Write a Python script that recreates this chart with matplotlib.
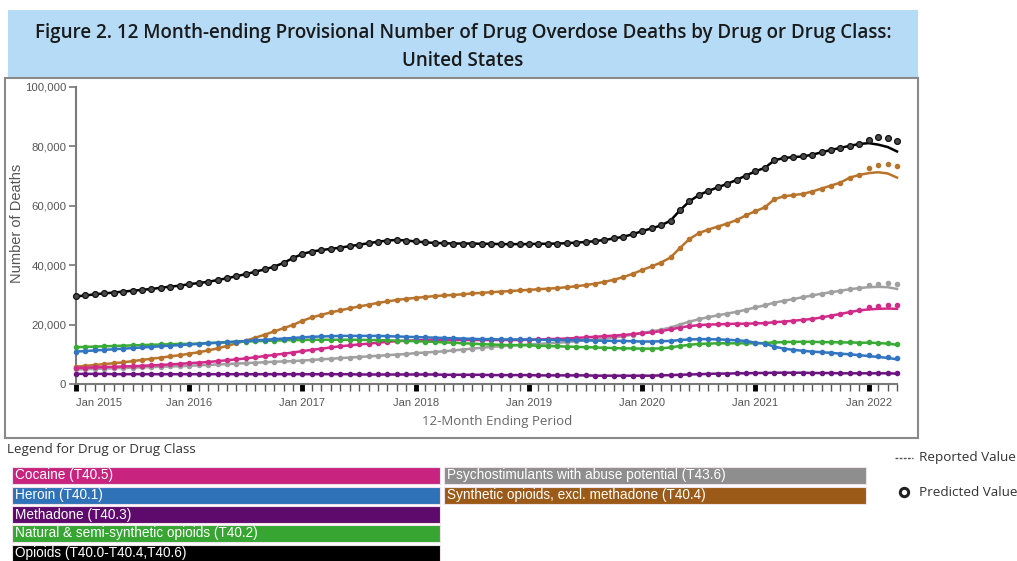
import matplotlib
matplotlib.use("Agg")
import matplotlib.pyplot as plt
from matplotlib.patches import Rectangle
from matplotlib.ticker import FuncFormatter, FixedLocator

# 12-month ending periods, Jan 2015 .. Apr 2022 (monthly)
n_months = 88
year_labels = ["Jan 2015", "Jan 2016", "Jan 2017", "Jan 2018",
               "Jan 2019", "Jan 2020", "Jan 2021", "Jan 2022"]

# reported values, thousands of deaths
opioids = [29.5, 29.8, 30.2, 30.5, 30.8, 31.1, 31.4, 31.7, 32.0, 32.4, 32.8, 33.1,
           33.6, 34.0, 34.4, 35.0, 35.6, 36.3, 37.0, 37.8, 38.6, 39.5, 40.8, 42.4,
           43.8, 44.6, 45.1, 45.5, 45.9, 46.4, 46.9, 47.4, 47.9, 48.3, 48.5, 48.3,
           48.0, 47.7, 47.5, 47.4, 47.3, 47.3, 47.3, 47.2, 47.2, 47.1, 47.1, 47.1,
           47.1, 47.2, 47.2, 47.3, 47.4, 47.6, 47.8, 48.1, 48.5, 49.0, 49.6, 50.4,
           51.5, 52.4, 53.4, 55.0, 58.5, 61.5, 63.6, 65.0, 66.2, 67.4, 68.7, 70.2,
           71.6, 72.8, 75.3, 76.1, 76.4, 76.6, 77.2, 78.0, 78.8, 79.5, 80.2, 80.8,
           81.1, 80.6, 79.8, 78.3]
synthetic = [5.8, 6.1, 6.4, 6.7, 7.0, 7.3, 7.7, 8.1, 8.5, 8.9, 9.3, 9.7,
             10.2, 10.7, 11.3, 12.0, 12.8, 13.7, 14.6, 15.6, 16.6, 17.7, 18.8, 19.9,
             21.3, 22.4, 23.3, 24.1, 24.8, 25.5, 26.1, 26.7, 27.3, 27.8, 28.3, 28.7,
             29.0, 29.3, 29.6, 29.8, 30.0, 30.2, 30.5, 30.7, 30.9, 31.1, 31.3, 31.5,
             31.7, 31.9, 32.1, 32.3, 32.6, 32.9, 33.3, 33.8, 34.4, 35.1, 36.0, 37.1,
             38.4, 39.6, 40.9, 42.6, 45.8, 48.8, 50.8, 52.0, 53.0, 54.0, 55.2, 56.8,
             58.2, 59.5, 62.2, 63.2, 63.6, 64.0, 64.8, 65.8, 66.8, 67.8, 69.5, 70.4,
             71.0, 71.3, 70.9, 69.5]
psychostim = [4.9, 5.0, 5.1, 5.2, 5.3, 5.4, 5.5, 5.6, 5.7, 5.8, 5.9, 6.0,
              6.1, 6.3, 6.4, 6.6, 6.7, 6.9, 7.0, 7.2, 7.3, 7.5, 7.6, 7.7,
              7.9, 8.1, 8.3, 8.5, 8.7, 8.9, 9.1, 9.3, 9.5, 9.7, 9.9, 10.1,
              10.4, 10.6, 10.8, 11.0, 11.3, 11.6, 11.9, 12.2, 12.5, 12.7, 12.9, 13.1,
              13.3, 13.5, 13.7, 13.9, 14.1, 14.4, 14.7, 15.0, 15.3, 15.7, 16.1, 16.6,
              17.2, 17.7, 18.3, 19.0, 20.0, 21.0, 21.8, 22.5, 23.1, 23.7, 24.3, 25.0,
              25.8, 26.5, 27.4, 28.0, 28.6, 29.2, 29.8, 30.4, 30.9, 31.4, 31.9, 32.3,
              32.6, 32.7, 32.6, 32.0]
cocaine = [5.4, 5.5, 5.6, 5.7, 5.8, 5.9, 6.0, 6.1, 6.3, 6.4, 6.6, 6.8,
           7.0, 7.2, 7.4, 7.7, 8.0, 8.3, 8.6, 9.0, 9.4, 9.8, 10.2, 10.6,
           11.1, 11.5, 11.9, 12.3, 12.7, 13.0, 13.3, 13.6, 13.9, 14.2, 14.4, 14.6,
           14.7, 14.8, 14.8, 14.8, 14.8, 14.8, 14.8, 14.8, 14.8, 14.8, 14.8, 14.8,
           14.9, 15.0, 15.1, 15.2, 15.3, 15.5, 15.7, 15.9, 16.1, 16.3, 16.5, 16.8,
           17.1, 17.4, 17.8, 18.4, 19.0, 19.5, 19.8, 20.0, 20.1, 20.2, 20.3, 20.3,
           20.4, 20.5, 20.8, 21.0, 21.3, 21.6, 21.9, 22.4, 23.0, 23.6, 24.2, 24.8,
           25.1, 25.3, 25.4, 25.3]
heroin = [10.9, 11.1, 11.3, 11.5, 11.7, 11.9, 12.1, 12.3, 12.5, 12.7, 12.9, 13.1,
          13.3, 13.5, 13.7, 13.9, 14.1, 14.3, 14.5, 14.7, 14.9, 15.1, 15.3, 15.5,
          15.7, 15.9, 16.0, 16.1, 16.2, 16.2, 16.2, 16.2, 16.2, 16.1, 16.0, 15.9,
          15.8, 15.7, 15.6, 15.5, 15.4, 15.3, 15.2, 15.1, 15.1, 15.0, 15.0, 15.0,
          15.0, 14.9, 14.9, 14.8, 14.8, 14.7, 14.7, 14.6, 14.6, 14.5, 14.5, 14.4,
          14.3, 14.3, 14.4, 14.5, 14.8, 15.0, 15.1, 15.1, 15.0, 14.9, 14.7, 14.5,
          13.9, 13.6, 12.6, 11.9, 11.5, 11.2, 10.9, 10.7, 10.5, 10.2, 10.0, 9.7,
          9.4, 9.1, 8.8, 8.3]
natural = [12.4, 12.5, 12.6, 12.7, 12.8, 12.9, 13.0, 13.1, 13.2, 13.3, 13.4, 13.5,
           13.5, 13.6, 13.8, 13.9, 14.0, 14.2, 14.3, 14.4, 14.5, 14.6, 14.7, 14.8,
           14.8, 14.9, 14.9, 14.9, 14.9, 14.9, 14.9, 14.8, 14.8, 14.7, 14.6, 14.5,
           14.4, 14.3, 14.2, 14.0, 13.9, 13.7, 13.6, 13.4, 13.3, 13.2, 13.1, 13.1,
           13.0, 12.9, 12.8, 12.7, 12.6, 12.5, 12.4, 12.3, 12.2, 12.1, 12.0, 12.0,
           11.9, 11.9, 12.0, 12.3, 12.8, 13.2, 13.5, 13.6, 13.7, 13.7, 13.7, 13.7,
           13.7, 13.8, 14.0, 14.1, 14.2, 14.2, 14.2, 14.1, 14.1, 14.0, 14.0, 13.9,
           13.9, 13.8, 13.6, 13.2]
methadone = [3.4, 3.4, 3.4, 3.4, 3.3, 3.3, 3.3, 3.3, 3.3, 3.3, 3.3, 3.3,
             3.3, 3.3, 3.3, 3.3, 3.3, 3.3, 3.3, 3.3, 3.3, 3.3, 3.3, 3.3,
             3.3, 3.3, 3.3, 3.3, 3.3, 3.3, 3.2, 3.2, 3.2, 3.2, 3.2, 3.2,
             3.2, 3.2, 3.2, 3.1, 3.1, 3.1, 3.1, 3.1, 3.0, 3.0, 3.0, 3.0,
             3.0, 2.9, 2.9, 2.9, 2.9, 2.9, 2.9, 2.8, 2.8, 2.8, 2.8, 2.8,
             2.8, 2.8, 2.9, 3.0, 3.1, 3.2, 3.3, 3.4, 3.5, 3.5, 3.6, 3.6,
             3.7, 3.7, 3.8, 3.8, 3.8, 3.8, 3.7, 3.7, 3.7, 3.6, 3.6, 3.6,
             3.6, 3.6, 3.6, 3.5]

# predicted values differ from reported only for the last 4 months
opioids_pred_tail = [82.0, 83.2, 82.8, 81.8]
synthetic_pred_tail = [72.6, 73.8, 74.0, 73.3]
psychostim_pred_tail = [33.4, 33.8, 34.0, 33.7]
cocaine_pred_tail = [25.8, 26.2, 26.5, 26.7]
heroin_pred_tail = [9.6, 9.4, 9.1, 8.7]
natural_pred_tail = [14.0, 13.9, 13.8, 13.4]
methadone_pred_tail = [3.7, 3.7, 3.7, 3.7]

series = [
    ("Cocaine (T40.5)", cocaine, cocaine_pred_tail, "#d12b8a", "#c8247f"),
    ("Heroin (T40.1)", heroin, heroin_pred_tail, "#3275c1", "#2f72b8"),
    ("Methadone (T40.3)", methadone, methadone_pred_tail, "#6c1480", "#5e0a6d"),
    ("Natural & semi-synthetic opioids (T40.2)", natural, natural_pred_tail, "#3aab37", "#36a532"),
    ("Opioids (T40.0-T40.4,T40.6)", opioids, opioids_pred_tail, "#000000", "#000000"),
    ("Psychostimulants with abuse potential (T43.6)", psychostim, psychostim_pred_tail, "#a0a0a0", "#8e8e8e"),
    ("Synthetic opioids, excl. methadone (T40.4)", synthetic, synthetic_pred_tail, "#b8742c", "#9b5a17"),
]

W, H = 1017, 561
fig = plt.figure(figsize=(W / 100, H / 100), dpi=100)


def fx(px):
    return px / W


def fy(py):
    return 1 - py / H


def box(x0, y0, x1, y1, **kw):
    fig.patches.append(Rectangle((fx(x0), fy(y1)), fx(x1) - fx(x0), (y1 - y0) / H,
                                 transform=fig.transFigure, **kw))


# title band and chart frame (behind the axes)
box(8, 10, 918, 77, facecolor="#b5dbf7", edgecolor="none", zorder=-5)
box(5, 78, 918, 438, facecolor="white", edgecolor="#8a8a8a", linewidth=1.5, zorder=-5)
fig.text(fx(463), fy(33), "Figure 2. 12 Month-ending Provisional Number of Drug Overdose Deaths by Drug or Drug Class:",
         ha="center", va="center", fontsize=13.5, family="Open Sans", fontweight="semibold", color="#1a1a1a")
fig.text(fx(463), fy(61), "United States", ha="center", va="center", fontsize=13.5,
         family="Open Sans", fontweight="semibold", color="#1a1a1a")

ax = fig.add_axes([fx(76), fy(384), fx(897) - fx(76), (384 - 87) / H])
ax.set_facecolor("none")
months = list(range(n_months))

draw_order = [4, 6, 5, 0, 3, 1, 2]
for i in draw_order:
    name, rep, tail, col, _ = series[i]
    pred = rep[:-len(tail)] + tail
    rep_v = [v * 1000 for v in rep]
    pred_v = [v * 1000 for v in pred]
    ax.plot(months, rep_v, color=col, lw=1.8, zorder=3, clip_on=False)
    if name.startswith("Opioids"):
        ax.plot(months, pred_v, ls="none", marker="o", ms=4.2, mfc="#4a4a4a", mec="#111111",
                mew=0.9, zorder=4, clip_on=False)
    else:
        ax.plot(months, pred_v, ls="none", marker="o", ms=3.0, mfc=col, mec=col,
                zorder=4, clip_on=False)

ax.set_xlim(0, n_months - 1)
ax.set_ylim(0, 100000)
ax.set_yticks(range(0, 100001, 20000))
ax.yaxis.set_major_formatter(FuncFormatter(lambda v, p: "{:,}".format(int(v))))
ax.tick_params(axis="y", labelsize=8.2, labelcolor="#555555", color="#777777",
               length=5, width=1.2, pad=2)
for t in ax.get_yticklabels():
    t.set_family("Liberation Sans")

ax.xaxis.set_major_locator(FixedLocator(list(range(0, n_months, 12))))
ax.xaxis.set_minor_locator(FixedLocator(months))
ax.set_xticklabels(year_labels)
ax.tick_params(axis="x", which="major", length=5, width=3.5, color="#000000",
               labelsize=8, labelcolor="#555555", pad=5)
ax.tick_params(axis="x", which="minor", length=5, width=1.0, color="#555555")
for t in ax.get_xticklabels():
    t.set_family("Liberation Sans")
ax.get_xticklabels()[0].set_ha("left")

for s in ["top", "right"]:
    ax.spines[s].set_visible(False)
for s in ["left", "bottom"]:
    ax.spines[s].set_color("#7a7a7a")
    ax.spines[s].set_linewidth(1.5)

fig.text(fx(497), fy(421), "12-Month Ending Period", ha="center", va="center",
         fontsize=9.5, family="Open Sans", color="#666666")
fig.text(fx(17), fy(223), "Number of Deaths", ha="center", va="center", rotation=90,
         fontsize=10.5, family="Liberation Sans", color="#555555")

# legend
fig.text(fx(7), fy(450), "Legend for Drug or Drug Class", ha="left", va="center",
         fontsize=9.6, family="Open Sans", color="#333333")
row_tops = [467, 487, 506, 525, 545]
for k, (name, rep, tail, col, bar_col) in enumerate(series):
    if k < 5:
        x0, x1, top = 12, 440, row_tops[k]
    else:
        x0, x1, top = 444, 866, row_tops[k - 5]
    box(x0, top, x1, top + 17, facecolor=bar_col, edgecolor="#f0e0ea", linewidth=0.8)
    fig.text(fx(x0 + 3), fy(top + 8.5), name, ha="left", va="center", fontsize=9.8,
             family="Liberation Sans", color="white")

fig.lines.append(plt.Line2D([fx(895), fx(913)], [fy(458), fy(458)], transform=fig.transFigure,
                            color="#555555", lw=1, ls=(0, (2, 1))))
fig.text(fx(919), fy(458), "Reported Value", ha="left", va="center", fontsize=9.7,
         family="Open Sans", color="#333333")
fig.lines.append(plt.Line2D([fx(904)], [fy(492)], transform=fig.transFigure, marker="o",
                            ms=6, mfc="white", mec="#222222", mew=2.2, ls="none"))
fig.text(fx(919), fy(492), "Predicted Value", ha="left", va="center", fontsize=9.7,
         family="Open Sans", color="#333333")

fig.savefig("out.png", dpi=100)
